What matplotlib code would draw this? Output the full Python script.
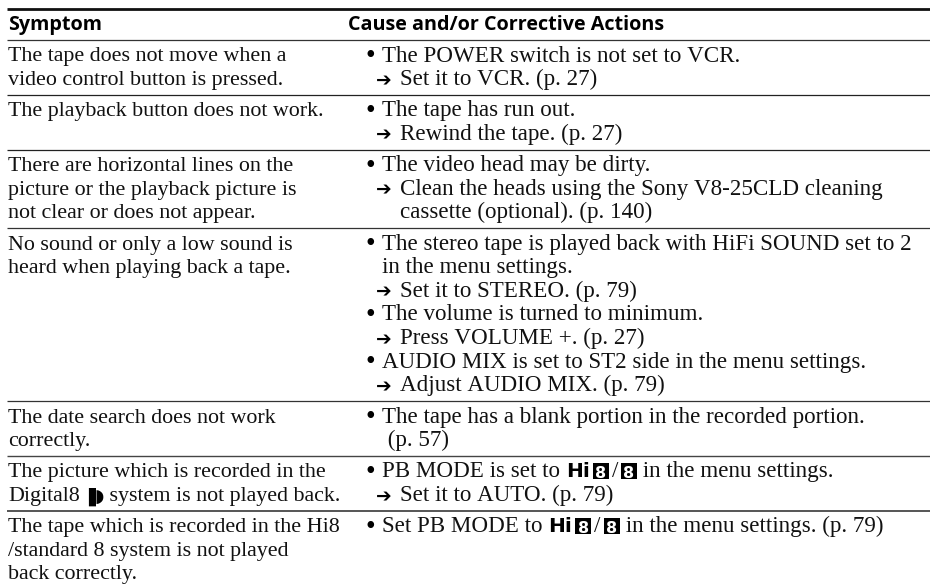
import matplotlib
matplotlib.use("Agg")
import matplotlib.pyplot as plt
from matplotlib.patches import Rectangle

HI8 = "{HI8}"
D8 = "{D8}"

headers = ["Symptom", "Cause and/or Corrective Actions"]

symptoms = [
    ["The tape does not move when a", "video control button is pressed."],
    ["The playback button does not work."],
    ["There are horizontal lines on the", "picture or the playback picture is", "not clear or does not appear."],
    ["No sound or only a low sound is", "heard when playing back a tape."],
    ["The date search does not work", "correctly."],
    ["The picture which is recorded in the", "Digital8{D8} system is not played back."],
    ["The tape which is recorded in the Hi8", "/standard 8 system is not played", "back correctly."],
]

# b bullet, a arrow, i text under arrow, c text under bullet
actions = [
    [("b", "The POWER switch is not set to VCR."), ("a", "Set it to VCR. (p. 27)")],
    [("b", "The tape has run out."), ("a", "Rewind the tape. (p. 27)")],
    [("b", "The video head may be dirty."),
     ("a", "Clean the heads using the Sony V8-25CLD cleaning"),
     ("i", "cassette (optional). (p. 140)")],
    [("b", "The stereo tape is played back with HiFi SOUND set to 2"),
     ("c", "in the menu settings."),
     ("a", "Set it to STEREO. (p. 79)"),
     ("b", "The volume is turned to minimum."),
     ("a", "Press VOLUME +. (p. 27)"),
     ("b", "AUDIO MIX is set to ST2 side in the menu settings."),
     ("a", "Adjust AUDIO MIX. (p. 79)")],
    [("b", "The tape has a blank portion in the recorded portion."), ("c", " (p. 57)")],
    [("b", "PB MODE is set to {HI8} in the menu settings."), ("a", "Set it to AUTO. (p. 79)")],
    [("b", "Set PB MODE to {HI8} in the menu settings. (p. 79)")],
]

row_lines = [2, 2, 3, 7, 2, 2, 3]
rule_colors = ["#222222", "#222222", "#333333", "#333333", "#444444", "#555555", "#222222"]
rule_widths = [0.9, 0.9, 0.9, 0.9, 1.0, 1.4, 0.9]

W, H = 930, 585
SERIF = "Liberation Serif"
SIZE_LEFT = 15.8
SIZE_RIGHT = 16.6
PITCH = 23.65
INK = "#111111"

fig = plt.figure(figsize=(W / 100, H / 100), dpi=100)
ax = fig.add_axes([0, 0, 1, 1])
ax.set_xlim(0, W)
ax.set_ylim(H, 0)
ax.axis("off")
renderer = fig.canvas.get_renderer()


def put(x, y, s, **kw):
    # draws a piece of text, returns x of its right end in pixels
    t = ax.text(x, y, s, va="baseline", ha="left", color=kw.pop("color", INK),
                family=kw.pop("family", SERIF), fontsize=kw.pop("fontsize", SIZE_RIGHT), **kw)
    return t.get_window_extent(renderer).x1


def badge(x, y):
    ax.add_patch(Rectangle((x, y - 14), 16, 16, fc="black", ec="none"))
    ax.text(x + 8, y + 0.5, "8", color="white", family="DejaVu Sans", fontsize=11.5, weight="bold",
            va="baseline", ha="center")
    return x + 16


def hi8(x, y):
    x = put(x, y, "Hi", family="DejaVu Sans", fontsize=14.5, weight="bold", color="black") + 3
    x = badge(x, y) + 3
    x = put(x, y, "/") + 3
    return badge(x, y)


def d8(x, y):
    return put(x + 1, y + 1, "▐◗", family="DejaVu Sans", fontsize=13, color="black")


def line(x, y, s, size):
    # text with the little tape format icons inside
    for part in s.replace(D8, "\0D\0").replace(HI8, "\0H\0").split("\0"):
        if part == "D":
            x = d8(x, y)
        elif part == "H":
            x = hi8(x, y)
        elif part:
            # keep the spaces next to an icon
            x = put(x, y, part.replace(" ", "\u00a0"), fontsize=size)
    return x


# rules
ax.plot([7, W], [9, 9], color="#111111", lw=2.0, solid_capstyle="butt")
y = 40
ax.plot([7, W], [y, y], color="#333333", lw=0.9, solid_capstyle="butt")
put(8, 30, headers[0], family="Open Sans", weight="bold", fontsize=14.2, color="black")
put(348, 30, headers[1], family="Open Sans", weight="bold", fontsize=14.2, color="black")

for k, (sym, act, n) in enumerate(zip(symptoms, actions, row_lines)):
    for i, s in enumerate(sym):
        line(8, y + 21.5 + i * PITCH, s, SIZE_LEFT)
    for i, (kind, s) in enumerate(act):
        base = y + 21.5 + i * PITCH
        if kind == "b":
            put(365, base + 1.5, "•", fontsize=20, color="black")
            line(382, base, s, SIZE_RIGHT)
        elif kind == "a":
            put(376, base + 1, "➔", family="DejaVu Sans", fontsize=13.5, color="black")
            line(400, base, s, SIZE_RIGHT)
        elif kind == "i":
            line(400, base, s, SIZE_RIGHT)
        else:
            line(382, base, s, SIZE_RIGHT)
    y += n * PITCH + 7.5
    if k < len(row_lines) - 1:
        ax.plot([7, W], [y, y], color=rule_colors[k], lw=rule_widths[k], solid_capstyle="butt")

fig.savefig("out.png", dpi=100, facecolor="white")
